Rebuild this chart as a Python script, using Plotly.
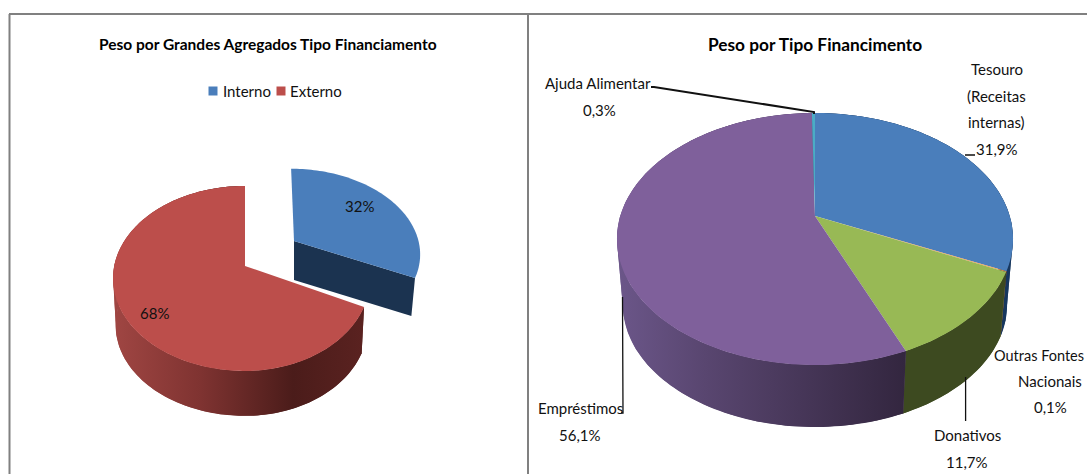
import numpy as np
import plotly.graph_objects as go

# ---- data ----
left_title = "Peso por Grandes Agregados Tipo Financiamento"
left_categories = ["Interno", "Externo"]
left_values = [32, 68]
left_colors = ["#4A7EBB", "#BC4E4B"]

right_title = "Peso por Tipo Financimento"
right_categories = ["Tesouro (Receitas internas)", "Outras Fontes Nacionais", "Donativos", "Empréstimos", "Ajuda Alimentar"]
right_values = [31.9, 0.1, 11.7, 56.1, 0.3]
right_colors = ["#4A7EBB", "#F79646", "#98B955", "#7F609B", "#4BACC6"]

FONT = "Lato, sans-serif"
TEXT = "#111111"


def rim(theta, g, bottom=False):
    """Perspective projection of a disc rim, theta clockwise from 12 o'clock."""
    u, v = np.sin(theta), np.cos(theta)
    den = 1 + g["p"] * v
    a = np.where(u >= 0, g["ar"], g["al"])
    X = a * u / den
    Y = g["b"] * v / den
    X = X + g.get("shear", 0) * Y
    if bottom:
        return g["cx"] + g["s"] * X, g["cy"] - g["s"] * Y + g["d"]
    return g["cx"] + X, g["cy"] - Y


def poly(fig, x, y, color=None, gradient=None, name=""):
    kw = dict(x=list(x), y=list(y), mode="lines", fill="toself",
              line=dict(width=0, simplify=False),
              hoverinfo="name", name=name, showlegend=False)
    if gradient:
        x0, x1, stops = gradient
        kw["fillgradient"] = dict(type="horizontal", colorscale=stops, start=x0, stop=x1)
    else:
        kw["fillcolor"] = color
    fig.add_trace(go.Scatter(**kw))


def arc(a0, a1, per_turn=240):
    n = max(2, int(abs(a1 - a0) / (2 * np.pi) * per_turn) + 2)
    return np.linspace(a0, a1, n)


def side(fig, a0, a1, g, name, color=None, gradient=None):
    """Outer wall: coarse quads (give straight silhouettes), plus the whole band."""
    t = arc(a0, a1, 48)
    xt, yt = rim(t, g)
    xb, yb = rim(t, g, bottom=True)
    for i in range(len(t) - 1):
        poly(fig, [xt[i], xt[i + 1], xb[i + 1], xb[i]], [yt[i], yt[i + 1], yb[i + 1], yb[i]],
             color, gradient, name)
    t = arc(a0, a1)
    xt, yt = rim(t, g)
    xb, yb = rim(t, g, bottom=True)
    poly(fig, np.r_[xt, xb[::-1]], np.r_[yt, yb[::-1]], color, gradient, name)


def top(fig, t, g, name, color):
    xt, yt = rim(t, g)
    poly(fig, np.r_[g["cx"], xt, g["cx"]], np.r_[g["cy"], yt, g["cy"]], color, None, name)


fig = go.Figure()

# ---- left pie ----
gl_red = dict(cx=245, cy=266, al=130.8, ar=124, b=90.8, p=0.135, s=0.98, d=47)
gl_blue = dict(cx=294, cy=241, al=124.5, ar=124.5, b=82, p=0.135, s=0.97, d=39, shear=-0.04)
frac = np.cumsum([0] + left_values) / sum(left_values) * 2 * np.pi

side(fig, frac[1], frac[2], gl_red, left_categories[1],
     gradient=(113, 363, [[0, "#A04643"], [0.35, "#7F3331"], [0.72, "#4B1C1A"], [1, "#5A2220"]]))
top(fig, arc(frac[1], frac[2]), gl_red, left_categories[1], left_colors[1])

# cut face of the exploded slice
ax, ay = rim(np.array([frac[1]]), gl_blue)
bx, by = rim(np.array([frac[1]]), gl_blue, bottom=True)
poly(fig, [gl_blue["cx"], ax[0], bx[0], gl_blue["cx"]],
     [gl_blue["cy"], ay[0], by[0], gl_blue["cy"] + gl_blue["d"]],
     "#1B3350", None, left_categories[0])
top(fig, arc(frac[0], frac[1]), gl_blue, left_categories[0], left_colors[0])

# ---- right pie ----
gr = dict(cx=815, cy=216, al=194.7, ar=194.7, b=121.8, p=0.1825, s=0.97, d=66.5)
fr = np.cumsum([0] + right_values) / sum(right_values) * 2 * np.pi
side_styles = [
    dict(color="#17375E"), dict(color="#7F4A1E"), dict(color="#3D4A20"),
    dict(gradient=(618, 905, [[0, "#6B5689"], [0.3, "#594670"], [1, "#33263F"]])), dict(color="#2E7487"),
]
for i in range(len(right_values)):
    side(fig, fr[i], fr[i + 1], gr, right_categories[i], **side_styles[i])
for i in range(len(right_values)):
    top(fig, arc(fr[i], fr[i + 1]), gr, right_categories[i], right_colors[i])

# ---- leader lines ----
leaders = [
    ([651, 654, 814, 814], [87, 87, 112, 114], 2),
    ([965, 975], [155, 155], 1.5),
    ([621, 623, 622.5], [413, 413, 297], 1.3),
    ([965.6, 965.6], [377, 421], 1.3),
]
for lx, ly, w in leaders:
    fig.add_trace(go.Scatter(x=lx, y=ly, mode="lines", line=dict(color="#111111", width=w),
                             hoverinfo="skip", showlegend=False))

# ---- legend (swatch + label) ----
for name, color, sx in zip(left_categories, left_colors, [213, 281]):
    fig.add_trace(go.Scatter(x=[sx], y=[91], mode="markers",
                             marker=dict(symbol="square", size=9, color=color),
                             hoverinfo="skip", showlegend=False))

anns = []


def txt(x, y, s, size=15, bold=False, anchor="center"):
    t = f"<b>{s}</b>" if bold else s
    anns.append(dict(x=x, y=y, text=t, showarrow=False, xref="x", yref="y", xanchor=anchor, yanchor="middle",
                     font=dict(family=FONT, size=size, color="#000000" if bold else TEXT)))


pct = lambda v: f"{v:.1f}".replace(".", ",") + "%"
txt(268, 44, left_title, 15.5, True)
txt(815, 44, right_title, 17.3, True)
txt(221, 91, left_categories[0], anchor="left")
txt(288, 91, left_categories[1], anchor="left")
txt(359, 206, f"{left_values[0]}%")
txt(154, 313, f"{left_values[1]}%")

txt(598, 83, right_categories[4])
txt(599.5, 110, pct(right_values[4]))
for y, s in zip([69, 96, 122], ["Tesouro", "(Receitas", "internas)"]):
    txt(996.6, y, s)
txt(996.6, 149, pct(right_values[0]))
txt(1086, 355, "Outras Fontes", 14.5, anchor="right")
txt(1050, 381, "Nacionais")
txt(1050, 407, pct(right_values[1]))
txt(967, 435, right_categories[2])
txt(967, 462, pct(right_values[2]))
txt(580, 408, right_categories[3])
txt(580, 435, pct(right_values[3]))

# ---- panel frames ----
frame = dict(color="#808080", width=2)
shapes = [
    dict(type="line", x0=9, x1=1087, y0=14, y1=14, line=frame),
    dict(type="line", x0=9.5, x1=9.5, y0=14, y1=474, line=frame),
    dict(type="line", x0=528, x1=528, y0=14, y1=474, line=frame),
]

fig.update_layout(
    width=1087, height=474, autosize=False, showlegend=False,
    margin=dict(l=0, r=0, t=0, b=0),
    paper_bgcolor="white", plot_bgcolor="white",
    xaxis=dict(range=[0, 1087], visible=False, fixedrange=True),
    yaxis=dict(range=[474, 0], visible=False, fixedrange=True),
    annotations=anns, shapes=shapes,
)
fig.write_html("out.html", config={"displayModeBar": False},
               post_script="document.body.style.margin='0';document.body.style.overflow='hidden';")
